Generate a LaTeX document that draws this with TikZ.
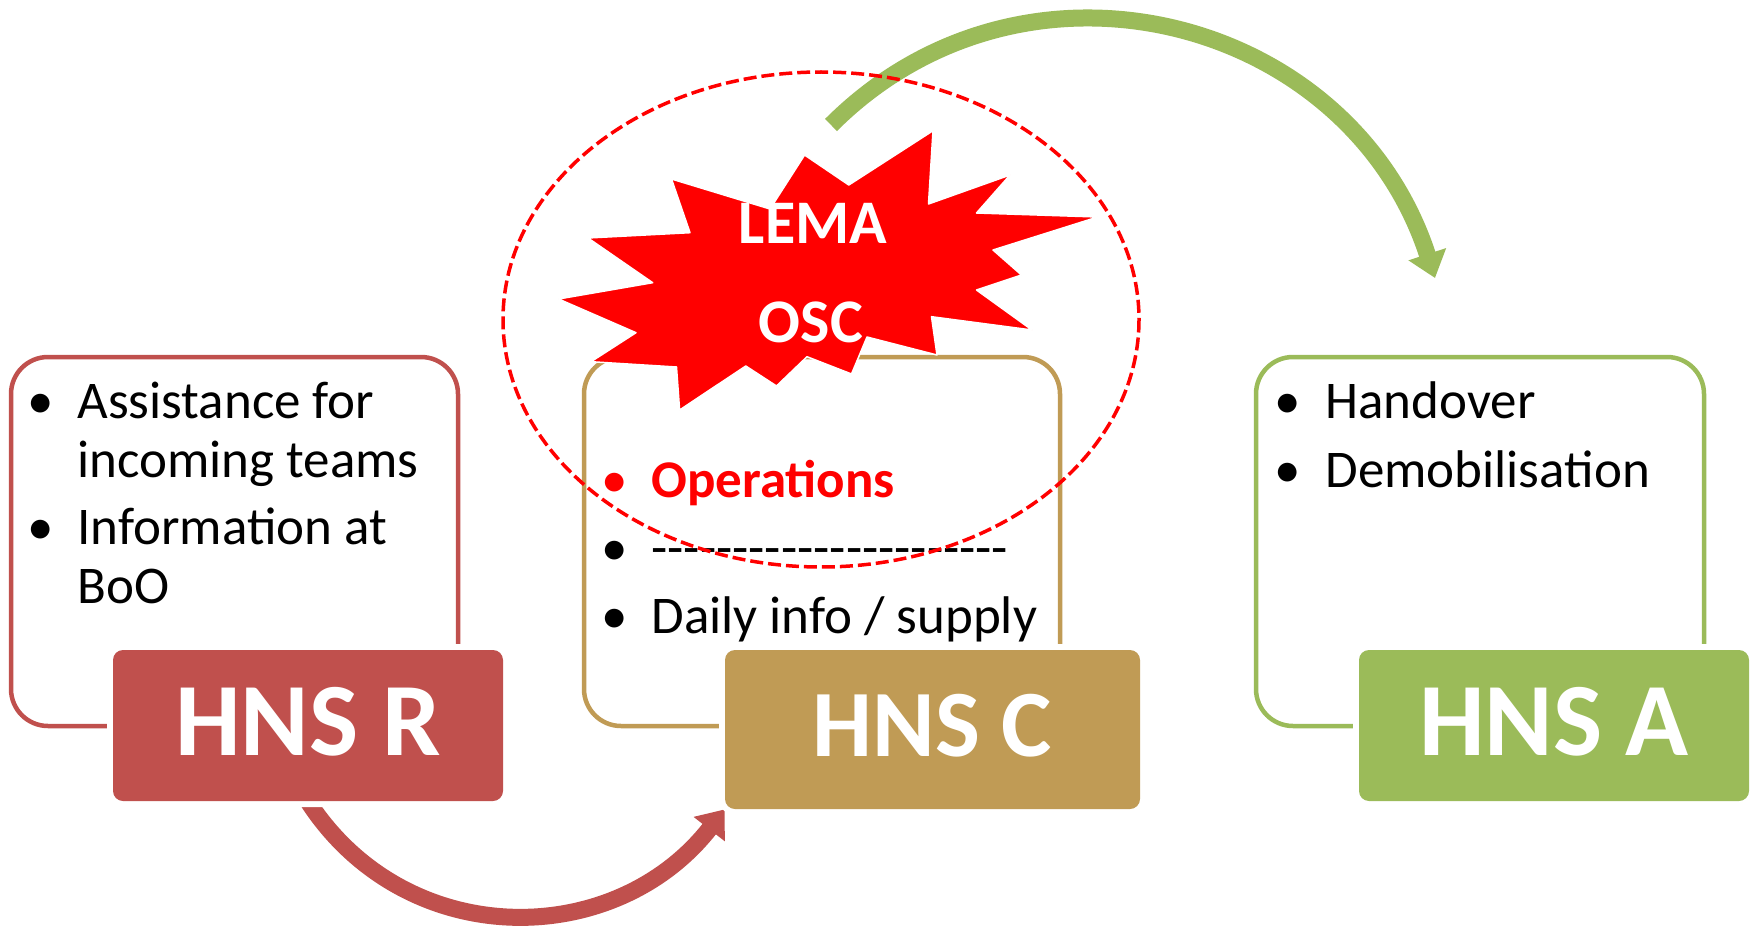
\documentclass[tikz,border=0pt]{standalone}
\usepackage{fontspec}
\setmainfont{Carlito}
\usetikzlibrary{arrows.meta,backgrounds}

\definecolor{hnsred}{RGB}{192,80,77}
\definecolor{hnstan}{RGB}{192,155,85}
\definecolor{hnsgreen}{RGB}{155,187,89}

\newcommand{\hyph}{\mbox{-}}

\tikzset{
  frame/.style={draw=#1, line width=2.25pt, rounded corners=18.5pt,
    minimum height=184.5pt, inner sep=0pt},
  hns/.style={fill=#1, preaction={draw=white, line width=6pt},
    rounded corners=5pt, text=white, inner sep=0pt, text depth=4pt,
    minimum width=195pt, minimum height=75.5pt,
    font=\fontsize{52}{60}\selectfont\bfseries},
  entry/.style={anchor=base west, inner sep=0pt, font=\fontsize{26.5}{30}\selectfont},
  bul/.style={anchor=base, inner sep=0pt, font=\fontsize{26.5}{30}\selectfont},
  burst/.style={anchor=base, inner sep=0pt, text=white,
    font=\fontsize{31}{36}\selectfont\bfseries},
  bigarrow/.style={line width=8.5pt, -{Triangle[width=19pt,length=12.5pt]}}
}

\begin{document}
\begin{tikzpicture}[x=0.5pt,y=-0.5pt]
    \useasboundingbox (0,0) rectangle (1757,931);

    \node[frame=hnsred, minimum width=223.5pt] (boxR) at (234.5,541.5) {};
    \node[frame=hnstan, minimum width=238pt] (boxC) at (822,541.5) {};
    \node[frame=hnsgreen, minimum width=224pt] (boxA) at (1480,541.5) {};

    \node[hns=hnsred] (hnsR) at (308,725.5) {HNS R};
    \node[hns=hnstan, minimum width=207.5pt, minimum height=79.5pt,
      font=\fontsize{47.5}{55}\selectfont\bfseries] (hnsC) at (932.5,729.5) {HNS C};
    \node[hns=hnsgreen] (hnsA) at (1554,725.5) {HNS A};

    \node[bul] (rDot1) at (41,418) {•};
    \node[entry] (rLine1) at (77,418) {Assistance for};
    \node[entry] (rLine2) at (77,477) {incoming teams};
    \node[bul] (rDot2) at (41,544) {•};
    \node[entry] (rLine3) at (77,544) {Information at};
    \node[entry] (rLine4) at (77,603) {BoO};

    \node[bul, text=red] (cDot1) at (615,497) {•};
    \node[entry, text=red, font=\fontsize{26.5}{30}\selectfont\bfseries] (cLine1) at (651,497) {Operations};
    \node[bul] (cDot2) at (615,565) {•};
    \node[entry] (cLine2) at (651,565) {\hyph\hyph\hyph\hyph\hyph\hyph\hyph\hyph\hyph\hyph\hyph\hyph\hyph\hyph\hyph\hyph\hyph\hyph\hyph\hyph\hyph\hyph};
    \node[bul] (cDot3) at (615,633) {•};
    \node[entry] (cLine3) at (651,633) {Daily info / supply};

    \node[bul] (aDot1) at (1288,418) {•};
    \node[entry] (aLine1) at (1325,418) {Handover};
    \node[bul] (aDot2) at (1288,487) {•};
    \node[entry] (aLine2) at (1325,487) {Demobilisation};

    \coordinate (handFrom) at (831,125);
    \coordinate (handTo) at (1435,278);

    \begin{scope}[on background layer]
      \fill[white] (0,0) rectangle (1757,931);
      \draw[bigarrow, hnsred] (hnsR.south) to[out=-57, in=-128, looseness=1.1] (hnsC.south west);
      \draw[bigarrow, hnsgreen] (handFrom) to[out=45, in=108, looseness=1.13] (handTo);
    \end{scope}

    \draw[fill=red, draw=white, line width=0.75pt, line join=round]
      (804.6,155) -- (848.8,185) -- (933,130.7) -- (928.5,204) -- (1010,175)
      -- (976.5,213) -- (1097.7,217) -- (993,250) -- (1021.5,275) -- (976.5,290)
      -- (1032,330) -- (931.5,316.7) -- (937,355) -- (867,337) -- (851.5,374)
      -- (807,356.7) -- (776.5,386) -- (745.8,366) -- (679.6,410) -- (676.5,367)
      -- (591,361.7) -- (636,332.7) -- (558.5,299) -- (652.7,282.7) -- (588,238)
      -- (690,232.7) -- (671.5,179) -- (770,209) -- cycle;
    \node[burst] (lema) at (813,243) {LEMA};
    \node[burst] (osc) at (811,342) {OSC};

    \draw[red, line width=1.75pt, dash pattern=on 6.5pt off 2.5pt]
      (821,319.5) ellipse [x radius=318, y radius=247.5];
\end{tikzpicture}
\end{document}
